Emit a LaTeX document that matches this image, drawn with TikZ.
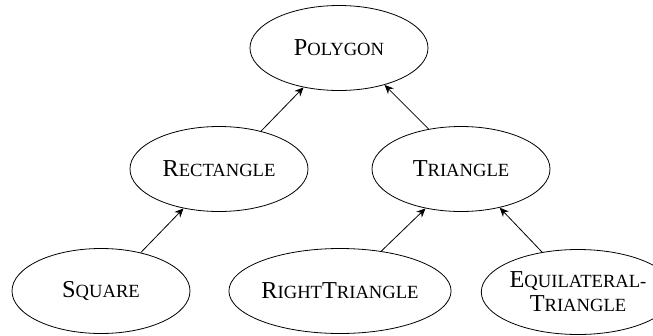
\documentclass[tikz,border=0pt]{standalone}
\usepackage{fontspec}
\setmainfont{Liberation Serif}
\usetikzlibrary{shapes.geometric,arrows.meta}
% small capitals built from two sizes of capitals
\newcommand\smallcapsword[2]{#1{\fontsize{18.6}{26}\selectfont #2}}
\tikzset{
  cls/.style={draw, ellipse, line width=0.8pt, minimum width=178pt, minimum height=85pt,
    inner sep=0pt, align=center, font=\fontsize{24.3}{26}\selectfont},
  inherit/.style={-{Stealth[length=9pt,width=8pt]}, line width=0.8pt}
}
\begin{document}
\begin{tikzpicture}[x=1pt,y=-1pt]
\useasboundingbox (0,0) rectangle (653,335);
\node[cls] (poly) at (339,48) {\smallcapsword{P}{OLYGON}};
\node[cls] (rect) at (219,169) {\smallcapsword{R}{ECTANGLE}};
\node[cls] (tri) at (461,169) {\smallcapsword{T}{RIANGLE}};
\node[cls] (sq) at (101,291) {\smallcapsword{S}{QUARE}};
\node[cls] (rt) at (340,291) {\smallcapsword{R}{IGHT}\smallcapsword{T}{RIANGLE}};
\node[cls, minimum width=158pt] (eq) at (578,292) {\smallcapsword{E}{QUILATERAL-}\\[-2pt]\smallcapsword{T}{RIANGLE}};
\draw[inherit] (rect.42) -- (poly.228);
\draw[inherit] (tri.129) -- (poly.321);
\draw[inherit] (sq.44) -- (rect.228);
\draw[inherit] (rt.44) -- (tri.228);
\draw[inherit] (eq.132) -- (tri.315);
\end{tikzpicture}
\end{document}
